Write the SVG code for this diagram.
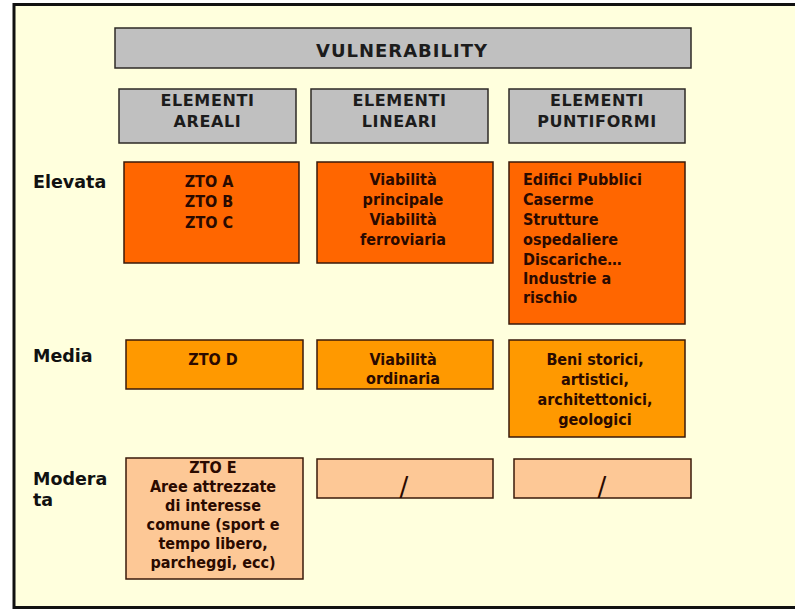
<svg xmlns="http://www.w3.org/2000/svg" width="795" height="613" viewBox="0 0 795 613">
  <style>
    .hdr { fill: #c0c0c0; stroke: #2e2a26; stroke-width: 1.5; }
    .high { fill: #ff6600; stroke: #3a1a0a; stroke-width: 1.5; }
    .mid { fill: #ff9900; stroke: #3a1a0a; stroke-width: 1.5; }
    .low { fill: #fdc896; stroke: #3a1a0a; stroke-width: 1.5; }
    text { font-family: "DejaVu Sans Condensed", "DejaVu Sans", sans-serif; font-weight: bold; }
    .ht { font-family: "DejaVu Sans", sans-serif; font-size: 16px; fill: #1c1c1c; text-anchor: middle; letter-spacing: 0.6px; }
    .title { font-size: 18px; letter-spacing: 1px; }
    .bt { font-size: 16px; fill: #2a0a00; text-anchor: middle; font-stretch: condensed; }
    .bl { font-size: 16px; fill: #2a0a00; font-stretch: condensed; }
    .slash { font-family: "DejaVu Sans", sans-serif; font-size: 26px; font-weight: normal; fill: #2a0a00; text-anchor: middle; }
    .lbl { font-family: "DejaVu Sans", sans-serif; font-size: 17.5px; fill: #111; }
  </style>

  <!-- page background and frame -->
  <rect x="0" y="0" width="795" height="613" fill="#ffffff"/>
  <rect x="14" y="4.5" width="800" height="603" fill="#ffffdd" stroke="#111" stroke-width="3"/>

  <!-- title -->
  <g id="vulnerability">
    <rect class="hdr" x="115" y="28" width="576" height="40"/>
    <text class="ht title" x="402" y="57">VULNERABILITY</text>
  </g>

  <!-- column headers -->
  <g id="col-areali">
    <rect class="hdr" x="119" y="89" width="177" height="54"/>
    <text class="ht" x="207.5" y="106">ELEMENTI</text>
    <text class="ht" x="207.5" y="127">AREALI</text>
  </g>
  <g id="col-lineari">
    <rect class="hdr" x="311" y="89" width="177" height="54"/>
    <text class="ht" x="399.5" y="106">ELEMENTI</text>
    <text class="ht" x="399.5" y="127">LINEARI</text>
  </g>
  <g id="col-puntiformi">
    <rect class="hdr" x="509" y="89" width="176" height="54"/>
    <text class="ht" x="597" y="106">ELEMENTI</text>
    <text class="ht" x="597" y="127">PUNTIFORMI</text>
  </g>

  <!-- row labels -->
  <g id="row-labels">
    <text class="lbl" x="33" y="188">Elevata</text>
    <text class="lbl" x="33" y="362">Media</text>
    <text class="lbl" x="33" y="485">Modera</text>
    <text class="lbl" x="33" y="506">ta</text>
  </g>

  <!-- Elevata row -->
  <g id="elevata-areali">
    <rect class="high" x="124" y="162" width="175" height="101"/>
    <text class="bt" x="209" y="187">ZTO A</text>
    <text class="bt" x="209" y="207">ZTO B</text>
    <text class="bt" x="209" y="228">ZTO C</text>
  </g>
  <g id="elevata-lineari">
    <rect class="high" x="317" y="162" width="176" height="101"/>
    <text class="bt" x="403" y="185">Viabilità</text>
    <text class="bt" x="403" y="205">principale</text>
    <text class="bt" x="403" y="225">Viabilità</text>
    <text class="bt" x="403" y="245">ferroviaria</text>
  </g>
  <g id="elevata-puntiformi">
    <rect class="high" x="509" y="162" width="176" height="162"/>
    <text class="bl" x="523" y="185">Edifici Pubblici</text>
    <text class="bl" x="523" y="205">Caserme</text>
    <text class="bl" x="523" y="225">Strutture</text>
    <text class="bl" x="523" y="245">ospedaliere</text>
    <text class="bl" x="523" y="265">Discariche…</text>
    <text class="bl" x="523" y="284">Industrie a</text>
    <text class="bl" x="523" y="303">rischio</text>
  </g>

  <!-- Media row -->
  <g id="media-areali">
    <rect class="mid" x="126" y="340" width="177" height="49"/>
    <text class="bt" x="213" y="365">ZTO D</text>
  </g>
  <g id="media-lineari">
    <rect class="mid" x="317" y="340" width="176" height="49"/>
    <text class="bt" x="403" y="365">Viabilità</text>
    <text class="bt" x="403" y="384">ordinaria</text>
  </g>
  <g id="media-puntiformi">
    <rect class="mid" x="509" y="340" width="176" height="97"/>
    <text class="bt" x="595" y="365">Beni storici,</text>
    <text class="bt" x="595" y="385">artistici,</text>
    <text class="bt" x="595" y="405">architettonici,</text>
    <text class="bt" x="595" y="425">geologici</text>
  </g>

  <!-- Moderata row -->
  <g id="moderata-areali">
    <rect class="low" x="126" y="458" width="177" height="121"/>
    <text class="bt" x="213" y="473">ZTO E</text>
    <text class="bt" x="213" y="492">Aree attrezzate</text>
    <text class="bt" x="213" y="511">di interesse</text>
    <text class="bt" x="213" y="530">comune (sport e</text>
    <text class="bt" x="213" y="549">tempo libero,</text>
    <text class="bt" x="213" y="568">parcheggi, ecc)</text>
  </g>
  <g id="moderata-lineari">
    <rect class="low" x="317" y="459" width="176" height="39"/>
    <text class="slash" x="404" y="496">/</text>
  </g>
  <g id="moderata-puntiformi">
    <rect class="low" x="514" y="459" width="177" height="39"/>
    <text class="slash" x="602" y="496">/</text>
  </g>
</svg>
